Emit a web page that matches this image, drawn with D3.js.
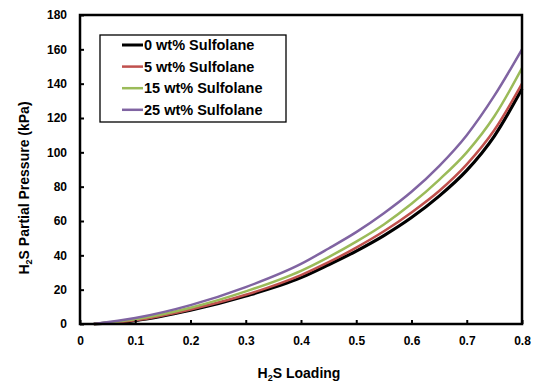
<!DOCTYPE html>
<html>
<head>
<meta charset="utf-8">
<script src="https://cdn.jsdelivr.net/npm/d3@7"></script>
<style>
  body { margin: 0; background: #fff; }
  svg text { font-family: "Liberation Sans", Arial, sans-serif; font-weight: bold; fill: #000; }
</style>
</head>
<body>
<svg id="chart" width="535" height="383"></svg>
<script>
// H2S loading (mol/mol)
var loading = [0.025, 0.1, 0.2, 0.3, 0.4, 0.45, 0.5, 0.55, 0.6, 0.65, 0.7, 0.75, 0.8];
// partial pressure (kPa) per sulfolane content
var p0  = [0, 2.0, 8.0, 16.3, 27.0, 34.5, 42.5, 51.5, 62.0, 74.5, 89.5, 109.5, 137];
var p5  = [0, 2.2, 8.5, 17.0, 28.5, 36.0, 44.5, 54.0, 65.0, 77.5, 93.0, 113.0, 140];
var p15 = [0, 2.8, 9.5, 19.0, 31.0, 39.0, 48.0, 58.0, 70.0, 84.0, 100.0, 121.0, 149];
var p25 = [0, 3.5, 11.0, 21.5, 35.0, 44.0, 53.5, 64.5, 77.0, 92.0, 110.0, 133.0, 160];
var seriesNames = ["0 wt% Sulfolane", "5 wt% Sulfolane", "15 wt% Sulfolane", "25 wt% Sulfolane"];
var seriesColors = ["#000000", "#c0504d", "#9bbb59", "#8064a2"];
var xTicks = [0, 0.1, 0.2, 0.3, 0.4, 0.5, 0.6, 0.7, 0.8];
var yTicks = [0, 20, 40, 60, 80, 100, 120, 140, 160, 180];

var svg = d3.select("#chart");
var plotL = 80, plotR = 522, plotT = 15, plotB = 324;

var x = d3.scaleLinear().domain([0, 0.8]).range([plotL, plotR]);
var y = d3.scaleLinear().domain([0, 180]).range([plotB, plotT]);

var allSeries = [p0, p5, p15, p25];

// curves (black drawn first so coloured ones sit on top)
var line = d3.line()
    .x(function(d){ return x(d[0]); })
    .y(function(d){ return y(d[1]); })
    .curve(d3.curveMonotoneX);

allSeries.forEach(function(vals, i){
  var pts = loading.map(function(l, j){ return [l, vals[j]]; });
  svg.append("path")
    .attr("d", line(pts))
    .attr("fill", "none")
    .attr("stroke", seriesColors[i])
    .attr("stroke-width", i == 0 ? 3.2 : 2.5);
});

// axes (ticks pointing inwards)
var xAxis = d3.axisBottom(x).tickValues(xTicks).tickSize(-4).tickPadding(12)
    .tickFormat(function(d){ return d == 0 ? "0" : d3.format(".1f")(d); });
var gx = svg.append("g").attr("transform", "translate(0," + plotB + ")").call(xAxis);

var yAxis = d3.axisLeft(y).tickValues(yTicks).tickSize(-4).tickPadding(13);
var gy = svg.append("g").attr("transform", "translate(" + plotL + ",0)").call(yAxis);

[gx, gy].forEach(function(g){
  g.select(".domain").remove();
  g.selectAll(".tick line").attr("stroke", "#000").attr("stroke-width", 2);
  g.selectAll(".tick text").style("font-size", "12px").style("font-family", "'Liberation Sans', Arial, sans-serif").style("font-weight", "bold");
});

// frame
svg.append("rect")
  .attr("x", plotL).attr("y", plotT)
  .attr("width", plotR - plotL).attr("height", plotB - plotT)
  .attr("fill", "none").attr("stroke", "#000").attr("stroke-width", 2.5);

// axis titles
var xt = svg.append("text")
  .attr("x", (plotL + plotR) / 2 - 2).attr("y", 378)
  .attr("text-anchor", "middle").style("font-size", "14px");
xt.append("tspan").text("H");
xt.append("tspan").text("2").style("font-size", "9px").attr("dy", 3);
xt.append("tspan").text("S Loading").attr("dy", -3);

var yt = svg.append("text")
  .attr("transform", "translate(29,188) rotate(-90)")
  .attr("text-anchor", "middle").style("font-size", "14px");
yt.append("tspan").text("H");
yt.append("tspan").text("2").style("font-size", "9px").attr("dy", 3);
yt.append("tspan").text("S Partial Pressure (kPa)").attr("dy", -3);

// legend
var lg = svg.append("g");
lg.append("rect")
  .attr("x", 100).attr("y", 35).attr("width", 186).attr("height", 87)
  .attr("fill", "#fff").attr("stroke", "#000").attr("stroke-width", 1.3);

seriesNames.forEach(function(name, i){
  var yy = 45 + i * 21.6;
  lg.append("line")
    .attr("x1", 122).attr("x2", 143).attr("y1", yy).attr("y2", yy)
    .attr("stroke", seriesColors[i]).attr("stroke-width", i == 0 ? 3 : 2.5);
  lg.append("text")
    .attr("x", 144).attr("y", yy + 5)
    .style("font-size", "14.5px")
    .text(name);
});
</script>
</body>
</html>
